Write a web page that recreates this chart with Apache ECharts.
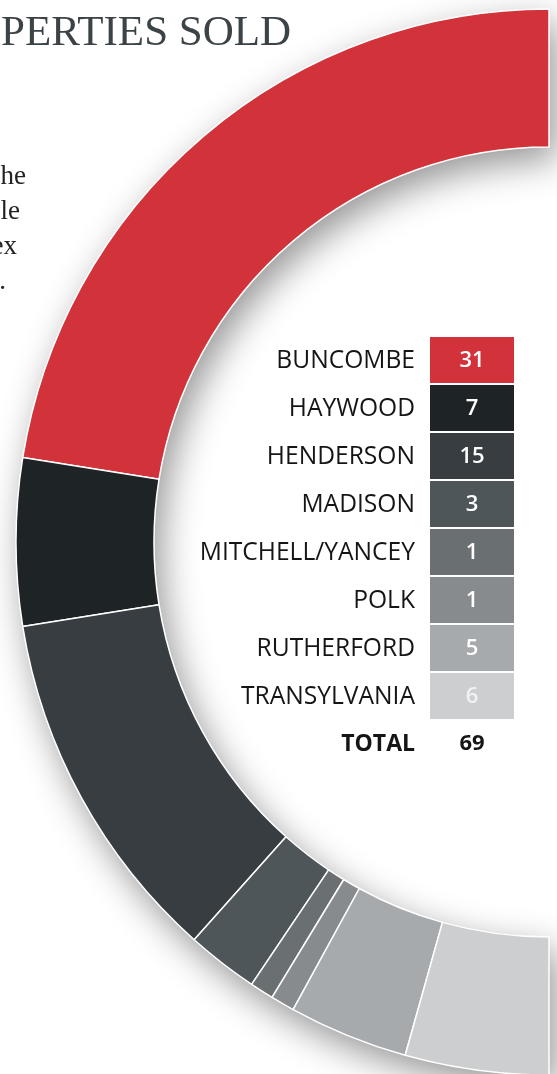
<!DOCTYPE html>
<html>
<head>
<meta charset="utf-8">
<script src="https://cdn.jsdelivr.net/npm/echarts@6/dist/echarts.min.js"></script>
<style>
  html, body { margin: 0; padding: 0; background: #fff; }
  #chart { width: 557px; height: 1074px; }
</style>
</head>
<body>
<div id="chart"></div>
<script>
// properties sold per county
var counties = ['BUNCOMBE', 'HAYWOOD', 'HENDERSON', 'MADISON', 'MITCHELL/YANCEY', 'POLK', 'RUTHERFORD', 'TRANSYLVANIA'];
var sold = [31, 7, 15, 3, 1, 1, 5, 6];
var titleText = 'PERTIES SOLD';
var introFragments = ['he', 'le', 'ex', '.'];

var colors = ['#d2323a', '#1e2326', '#373d41', '#4f5659', '#6a6f72', '#878b8e', '#a7aaad', '#cdcecf'];
var total = sold.reduce(function (a, b) { return a + b; }, 0);

var chart = echarts.init(document.getElementById('chart'), null, { renderer: 'canvas' });

// table on the right side
var graphics = [];
var rowTop = 337, rowStep = 48, rowH = 46;
var labelRight = 415, boxX = 430, boxW = 84;
var labelFont = '24.6px "Open Sans"';
var numFont = '600 22px "Open Sans"';

counties.forEach(function (name, i) {
  var y = rowTop + i * rowStep;
  graphics.push({
    type: 'rect', silent: true,
    shape: { x: boxX, y: y, width: boxW, height: rowH },
    style: { fill: colors[i] }
  });
  graphics.push({
    type: 'text', silent: true,
    style: { text: String(sold[i]), x: boxX + boxW / 2, y: y + rowH / 2 + 1,
      textAlign: 'center', textVerticalAlign: 'middle', font: numFont,
      fill: i === counties.length - 1 ? '#f2f2f2' : '#ffffff' }
  });
  graphics.push({
    type: 'text', silent: true,
    style: { text: name, x: labelRight, y: y + rowH / 2 + 1,
      textAlign: 'right', textVerticalAlign: 'middle', font: labelFont, fill: '#151515' }
  });
});

var totalY = rowTop + counties.length * rowStep + rowH / 2;
graphics.push({
  type: 'text', silent: true,
  style: { text: 'TOTAL', x: labelRight, y: totalY, textAlign: 'right', textVerticalAlign: 'middle',
    font: 'bold 23px "Open Sans"', fill: '#151515' }
});
graphics.push({
  type: 'text', silent: true,
  style: { text: String(total), x: boxX + boxW / 2, y: totalY, textAlign: 'center', textVerticalAlign: 'middle',
    font: 'bold 22px "Open Sans"', fill: '#151515' }
});

// title (cut at the left edge in the source page)
graphics.push({
  type: 'text', silent: true,
  style: { text: titleText, x: 1, y: 34, textAlign: 'left', textVerticalAlign: 'middle',
    font: '43px "Liberation Serif"', fill: '#3b4347' }
});

// ends of the intro paragraph lines
var fragRight = [26, 20, 17, 6];
introFragments.forEach(function (t, i) {
  graphics.push({
    type: 'text', silent: true,
    style: { text: t, x: fragRight[i], y: 177 + i * 35, textAlign: 'right', textVerticalAlign: 'middle',
      font: '27px "Liberation Serif"', fill: '#222222' }
  });
});

var center = [549, 542];
var radius = [395, 533];

var option = {
  animation: false,
  backgroundColor: '#ffffff',
  series: [
    {
      // shadow backdrop under the half ring
      type: 'pie', silent: true, z: 1,
      center: center, radius: radius,
      startAngle: 90, endAngle: 270, clockwise: false,
      label: { show: false }, labelLine: { show: false },
      itemStyle: { color: '#ffffff', shadowBlur: 36, shadowColor: 'rgba(0,0,0,0.42)', shadowOffsetX: 7, shadowOffsetY: 13 },
      data: [{ value: total, name: 'all' }]
    },
    {
      type: 'pie', silent: true, z: 2,
      center: center, radius: radius,
      startAngle: 90, endAngle: 270, clockwise: false,
      label: { show: false }, labelLine: { show: false },
      emphasis: { disabled: true },
      itemStyle: { borderColor: '#ffffff', borderWidth: 1.5 },
      data: counties.map(function (c, i) {
        return { name: c, value: sold[i], itemStyle: { color: colors[i] } };
      })
    }
  ],
  graphic: graphics
};

chart.setOption(option);
</script>
</body>
</html>
